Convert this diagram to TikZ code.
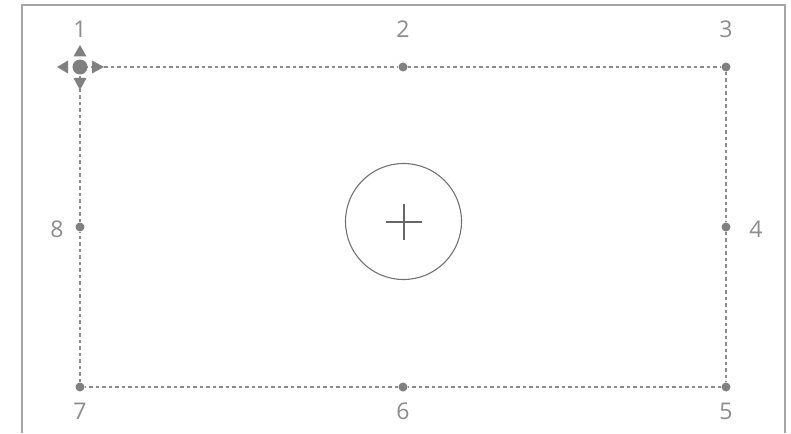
\documentclass[tikz,border=0pt]{standalone}
\usepackage{fontspec}
\setmainfont{Open Sans}
\begin{document}
\begin{tikzpicture}[x=1pt,y=-1pt,
  frame/.style={draw=black!35,line width=2pt},
  guide/.style={draw=black!45,dash pattern=on 3.5pt off 3pt,line width=1.1pt},
  handle/.style={circle,fill=black!50,inner sep=0pt,minimum size=9pt},
  lbl/.style={text=black!45,font=\fontsize{23}{23}\selectfont},
  icon/.style={fill=black!50,draw=none}]
\useasboundingbox (0,0) rectangle (791,433);
\fill[white] (0,0) rectangle (791,433);
\draw[frame] (22,433) -- (22,5) -- (785,5) -- (785,433);
% handles
\node[handle] (h1) at (80,67) {};
\node[handle] (h2) at (403,67) {};
\node[handle] (h3) at (726,67) {};
\node[handle] (h4) at (726,227) {};
\node[handle] (h5) at (726,387) {};
\node[handle] (h6) at (403,387) {};
\node[handle] (h7) at (80,387) {};
\node[handle] (h8) at (80,227) {};
\draw[guide] (h1) -- (h2) -- (h3) -- (h4) -- (h5) -- (h6) -- (h7) -- (h8) -- (h1);
% move icon
\node[circle,fill=black!50,inner sep=0pt,minimum size=15pt] (mv) at (80,67) {};
\fill[icon] (80,45) -- (86.5,56.5) -- (73.5,56.5) -- cycle;
\fill[icon] (80,90) -- (86.5,78) -- (73.5,78) -- cycle;
\fill[icon] (57,67) -- (68,60.5) -- (68,73.5) -- cycle;
\fill[icon] (104,67) -- (92,60.5) -- (92,73.5) -- cycle;
% labels
\node[lbl] (l1) at (80,29) {1};
\node[lbl] (l2) at (403,29) {2};
\node[lbl] (l3) at (726,29) {3};
\node[lbl] (l4) at (756,229) {4};
\node[lbl] (l5) at (726,411) {5};
\node[lbl] (l6) at (403,411) {6};
\node[lbl] (l7) at (80,411) {7};
\node[lbl] (l8) at (57,229) {8};
% center
\node[circle,draw=black!55,line width=1.1pt,minimum size=116pt,inner sep=0pt] (c) at (403.5,221.5) {};
\draw[black!60,line width=1.1pt] (386,222) -- (422,222) (404,204) -- (404,240);
\end{tikzpicture}
\end{document}
